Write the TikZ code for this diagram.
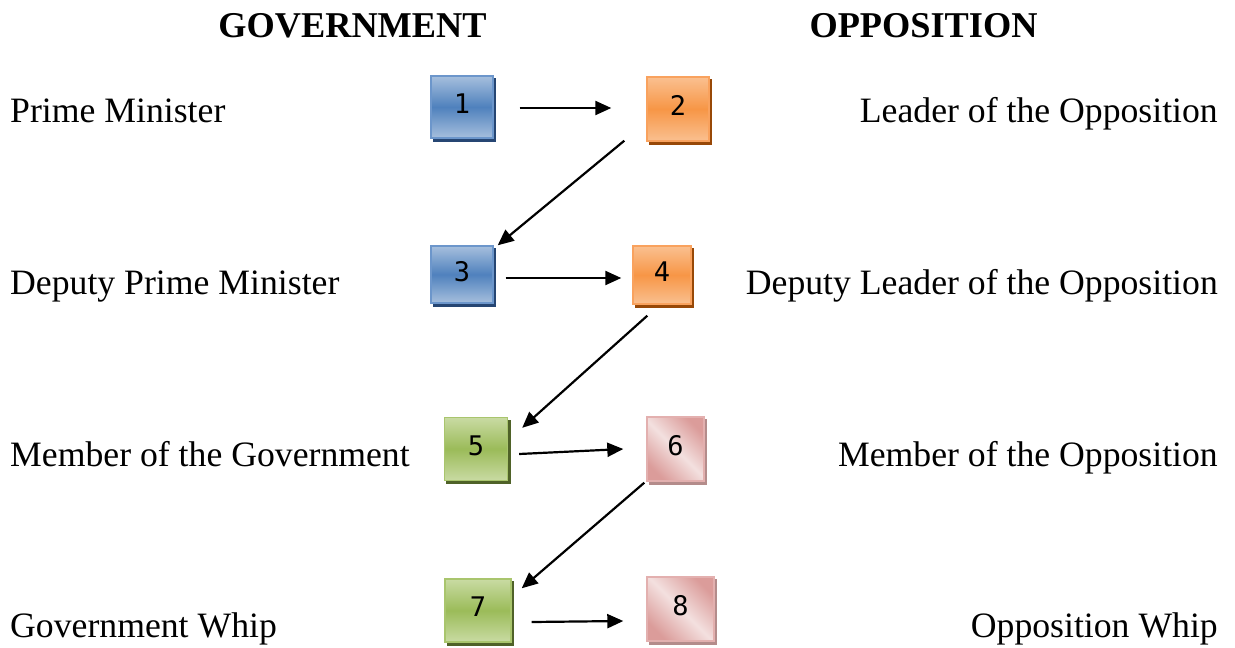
\documentclass[tikz,border=0pt]{standalone}
\usepackage{fontspec}
\setmainfont{Liberation Serif}
\newfontfamily\numfont{DejaVu Sans Mono}
\usetikzlibrary{calc,arrows.meta,backgrounds}
\definecolor{bluemid}{HTML}{4F81BD}
\definecolor{bluelight}{HTML}{A6BFDD}
\definecolor{blueedge}{HTML}{6C96CB}
\definecolor{blueshadow}{HTML}{264673}
\definecolor{orangemid}{HTML}{F79646}
\definecolor{orangelight}{HTML}{FAC090}
\definecolor{orangeedge}{HTML}{F9A25E}
\definecolor{orangeshadow}{HTML}{984807}
\definecolor{greenmid}{HTML}{9BBB59}
\definecolor{greenlight}{HTML}{C9DBA3}
\definecolor{greenedge}{HTML}{A9C56D}
\definecolor{greenshadow}{HTML}{4F6228}
\definecolor{pinkmid}{HTML}{F3E0DF}
\definecolor{pinkdark}{HTML}{DB9C9A}
\definecolor{pinkedge}{HTML}{E3B0AF}
\definecolor{pinkshadow}{HTML}{B48C8B}
\tikzset{
  box/.style={rectangle, inner sep=0pt, line width=1.4pt, text depth=7pt,
    font=\numfont\fontsize{27}{27}\selectfont},
  bluebox/.style={box, draw=blueedge, top color=bluelight, bottom color=bluelight, middle color=bluemid},
  orangebox/.style={box, draw=orangeedge, top color=orangelight, bottom color=orangelight, middle color=orangemid},
  greenbox/.style={box, draw=greenedge, top color=greenlight, bottom color=greenlight, middle color=greenmid},
  pinkbox/.style={box, draw=pinkedge, top color=pinkdark, bottom color=pinkdark, middle color=pinkmid, shading angle=-45},
  lbl/.style={inner sep=0pt, font=\fontsize{35.7}{43}\selectfont},
  head/.style={inner sep=0pt, font=\bfseries\fontsize{36.3}{43}\selectfont},
  arr/.style={line width=2.2pt, -{Triangle[length=16pt,width=14pt]}}
}
\newcommand\boxshadow[2]{\fill[#2] ($(#1.south west)+(2.5,3)$) rectangle ($(#1.north east)+(2.5,3)$);}
\begin{document}
\begin{tikzpicture}[x=1pt,y=-1pt]
\useasboundingbox (0,0) rectangle (1235,648);
% headings
\node[head, anchor=base] (hg) at (352.5,37) {GOVERNMENT};
\node[head, anchor=base] (ho) at (923.5,37) {OPPOSITION};
% left labels
\node[lbl, anchor=base west] (l1) at (10,122) {Prime Minister};
\node[lbl, anchor=base west] (l2) at (10,294) {Deputy Prime Minister};
\node[lbl, anchor=base west] (l3) at (10,466) {Member of the Government};
\node[lbl, anchor=base west] (l4) at (10,637) {Government Whip};
% right labels
\node[lbl, anchor=base east] (r1) at (1218,122) {Leader of the Opposition};
\node[lbl, anchor=base east] (r2) at (1218,294) {Deputy Leader of the Opposition};
\node[lbl, anchor=base east] (r3) at (1218,466) {Member of the Opposition};
\node[lbl, anchor=base east] (r4) at (1218,637) {Opposition Whip};
% boxes
\node[bluebox, minimum width=62pt, minimum height=62pt] (n1) at (462,107) {1};
\node[orangebox, minimum width=62pt, minimum height=64pt] (n2) at (678,109) {2};
\node[bluebox, minimum width=62pt, minimum height=57pt] (n3) at (462,274.5) {3};
\node[orangebox, minimum width=58pt, minimum height=58pt] (n4) at (662,275) {4};
\node[greenbox, minimum width=63pt, minimum height=63pt] (n5) at (476,449) {5};
\node[pinkbox, minimum width=57pt, minimum height=64pt] (n6) at (675.5,449) {6};
\node[greenbox, minimum width=66pt, minimum height=63pt] (n7) at (478,610.5) {7};
\node[pinkbox, minimum width=67pt, minimum height=64pt] (n8) at (680.5,609) {8};
\begin{scope}[on background layer]
\boxshadow{n1}{blueshadow}
\boxshadow{n2}{orangeshadow}
\boxshadow{n3}{blueshadow}
\boxshadow{n4}{orangeshadow}
\boxshadow{n5}{greenshadow}
\boxshadow{n6}{pinkshadow}
\boxshadow{n7}{greenshadow}
\boxshadow{n8}{pinkshadow}
\end{scope}
% arrows
\draw[arr] ($(n1.east)+(26,1)$) -- ($(n2.west)+(-35,-1)$);
\draw[arr] ($(n2.south west)+(-22,-1)$) -- ($(n3.north east)+(4,0)$);
\draw[arr] ($(n3.east)+(12,3.5)$) -- ($(n4.west)+(-11,3)$);
\draw[arr] ($(n4.south west)+(15,11)$) -- ($(n5.north east)+(14,11)$);
\draw[arr] ($(n5.east)+(11,5)$) -- ($(n6.west)+(-23,0)$);
\draw[arr] ($(n6.south west)+(-2,1)$) -- ($(n7.north east)+(10,10)$);
\draw[arr] ($(n7.east)+(20,11.5)$) -- ($(n8.west)+(-23,12)$);
\end{tikzpicture}
\end{document}
